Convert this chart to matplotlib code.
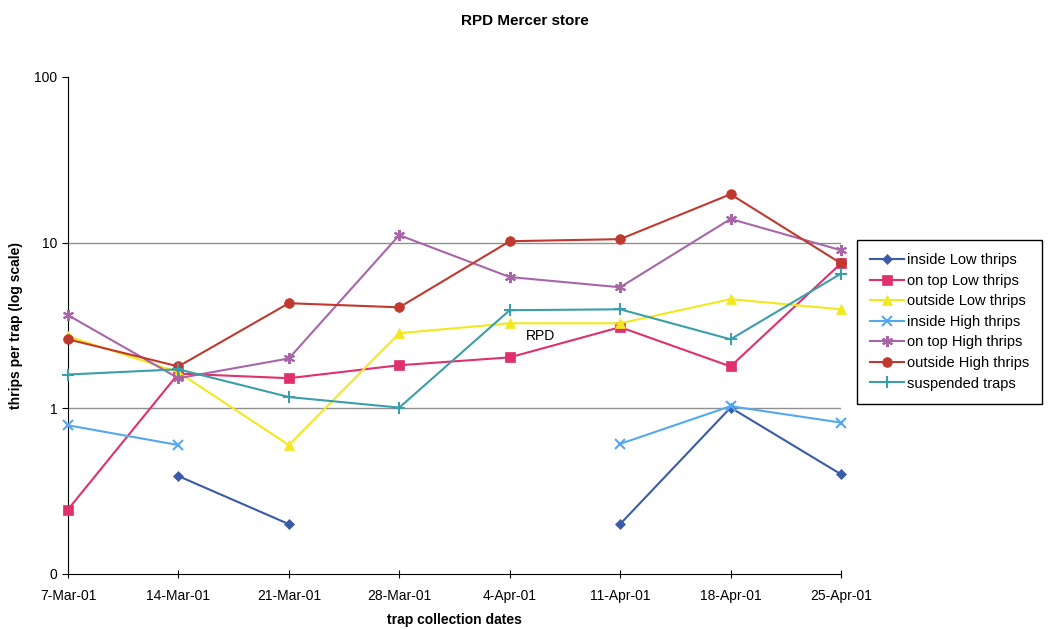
import matplotlib
matplotlib.use('Agg')
import matplotlib.pyplot as plt
import numpy as np

plt.rcParams['font.family'] = ['Liberation Sans', 'DejaVu Sans']

# Collection dates and trap counts
dates = ['7-Mar-01', '14-Mar-01', '21-Mar-01', '28-Mar-01',
         '4-Apr-01', '11-Apr-01', '18-Apr-01', '25-Apr-01']
nan = np.nan

inside_low = [nan, 0.39, 0.20, nan, nan, 0.20, 1.01, 0.40]
on_top_low = [0.245, 1.62, 1.52, 1.82, 2.03, 3.09, 1.79, 7.5]
outside_low = [2.72, 1.65, 0.60, 2.84, 3.26, 3.26, 4.56, 3.96]
inside_high = [0.79, 0.60, nan, nan, nan, 0.61, 1.03, 0.82]
on_top_high = [3.65, 1.52, 2.0, 11.1, 6.2, 5.38, 13.9, 9.0]
outside_high = [2.61, 1.79, 4.31, 4.07, 10.2, 10.5, 19.6, 7.5]
suspended = [1.60, 1.72, 1.17, 1.01, 3.91, 3.96, 2.61, 6.5]

y_ticks = [0.1, 1, 10, 100]
y_tick_labels = ['0', '1', '10', '100']

series = [
    ('inside Low thrips', inside_low, '#3a5ca8', 'D', 5),
    ('on top Low thrips', on_top_low, '#e0306e', 's', 7),
    ('outside Low thrips', outside_low, '#f2e81e', '^', 7),
    ('inside High thrips', inside_high, '#55a8f0', 'x', 7),
    ('on top High thrips', on_top_high, '#a866a8', (6, 2, 0), 8),
    ('outside High thrips', outside_high, '#c0392e', 'o', 7),
    ('suspended traps', suspended, '#3c9ea8', '+', 8),
]

fig = plt.figure(figsize=(10.49, 6.3), dpi=100)
ax = fig.add_axes([0.0648, 0.0889, 0.7369, 0.7889])

x = np.arange(len(dates))
for label, vals, color, marker, ms in series:
    ax.plot(x, vals, color=color, marker=marker, markersize=ms, lw=1.5,
            markeredgewidth=1.5 if marker in ('x', '+', (6, 2, 0)) else 0.5,
            markeredgecolor=color, label=label, clip_on=False, zorder=3)

# grey reference lines at 1 and 10
for g in [1, 10]:
    ax.axhline(g, color='#909090', lw=1, zorder=1)

ax.set_yscale('log')
ax.set_ylim(0.1, 100)
ax.set_xlim(0, len(dates) - 1)
ax.yaxis.set_minor_locator(matplotlib.ticker.NullLocator())
ax.set_yticks(y_ticks)
ax.set_yticklabels(y_tick_labels)
ax.set_xticks(x)
ax.set_xticklabels(dates)
ax.tick_params(axis='x', direction='inout', length=6, labelsize=10, pad=8)
ax.tick_params(axis='y', direction='out', length=4, labelsize=10)

ax.spines['top'].set_visible(False)
ax.spines['right'].set_visible(False)

ax.text(4.28, 2.72, 'RPD', fontsize=10, ha='center', va='center')

fig.text(0.5, 0.967, 'RPD Mercer store', fontsize=11, fontweight='bold',
         ha='center', va='center')
ax.set_xlabel('trap collection dates', fontsize=10, fontweight='bold', labelpad=7)
ax.set_ylabel('thrips per trap (log scale)', fontsize=10, fontweight='bold')
ax.yaxis.set_label_coords(-0.058, 0.5)

fig.legend(loc='upper left', bbox_to_anchor=(0.817, 0.619), borderaxespad=0,
           fontsize=10.5, frameon=True, fancybox=False, edgecolor='black',
           framealpha=1, labelspacing=0.45, handlelength=2.3, borderpad=0.9,
           handletextpad=0.2)

fig.savefig('out.png', dpi=100)
